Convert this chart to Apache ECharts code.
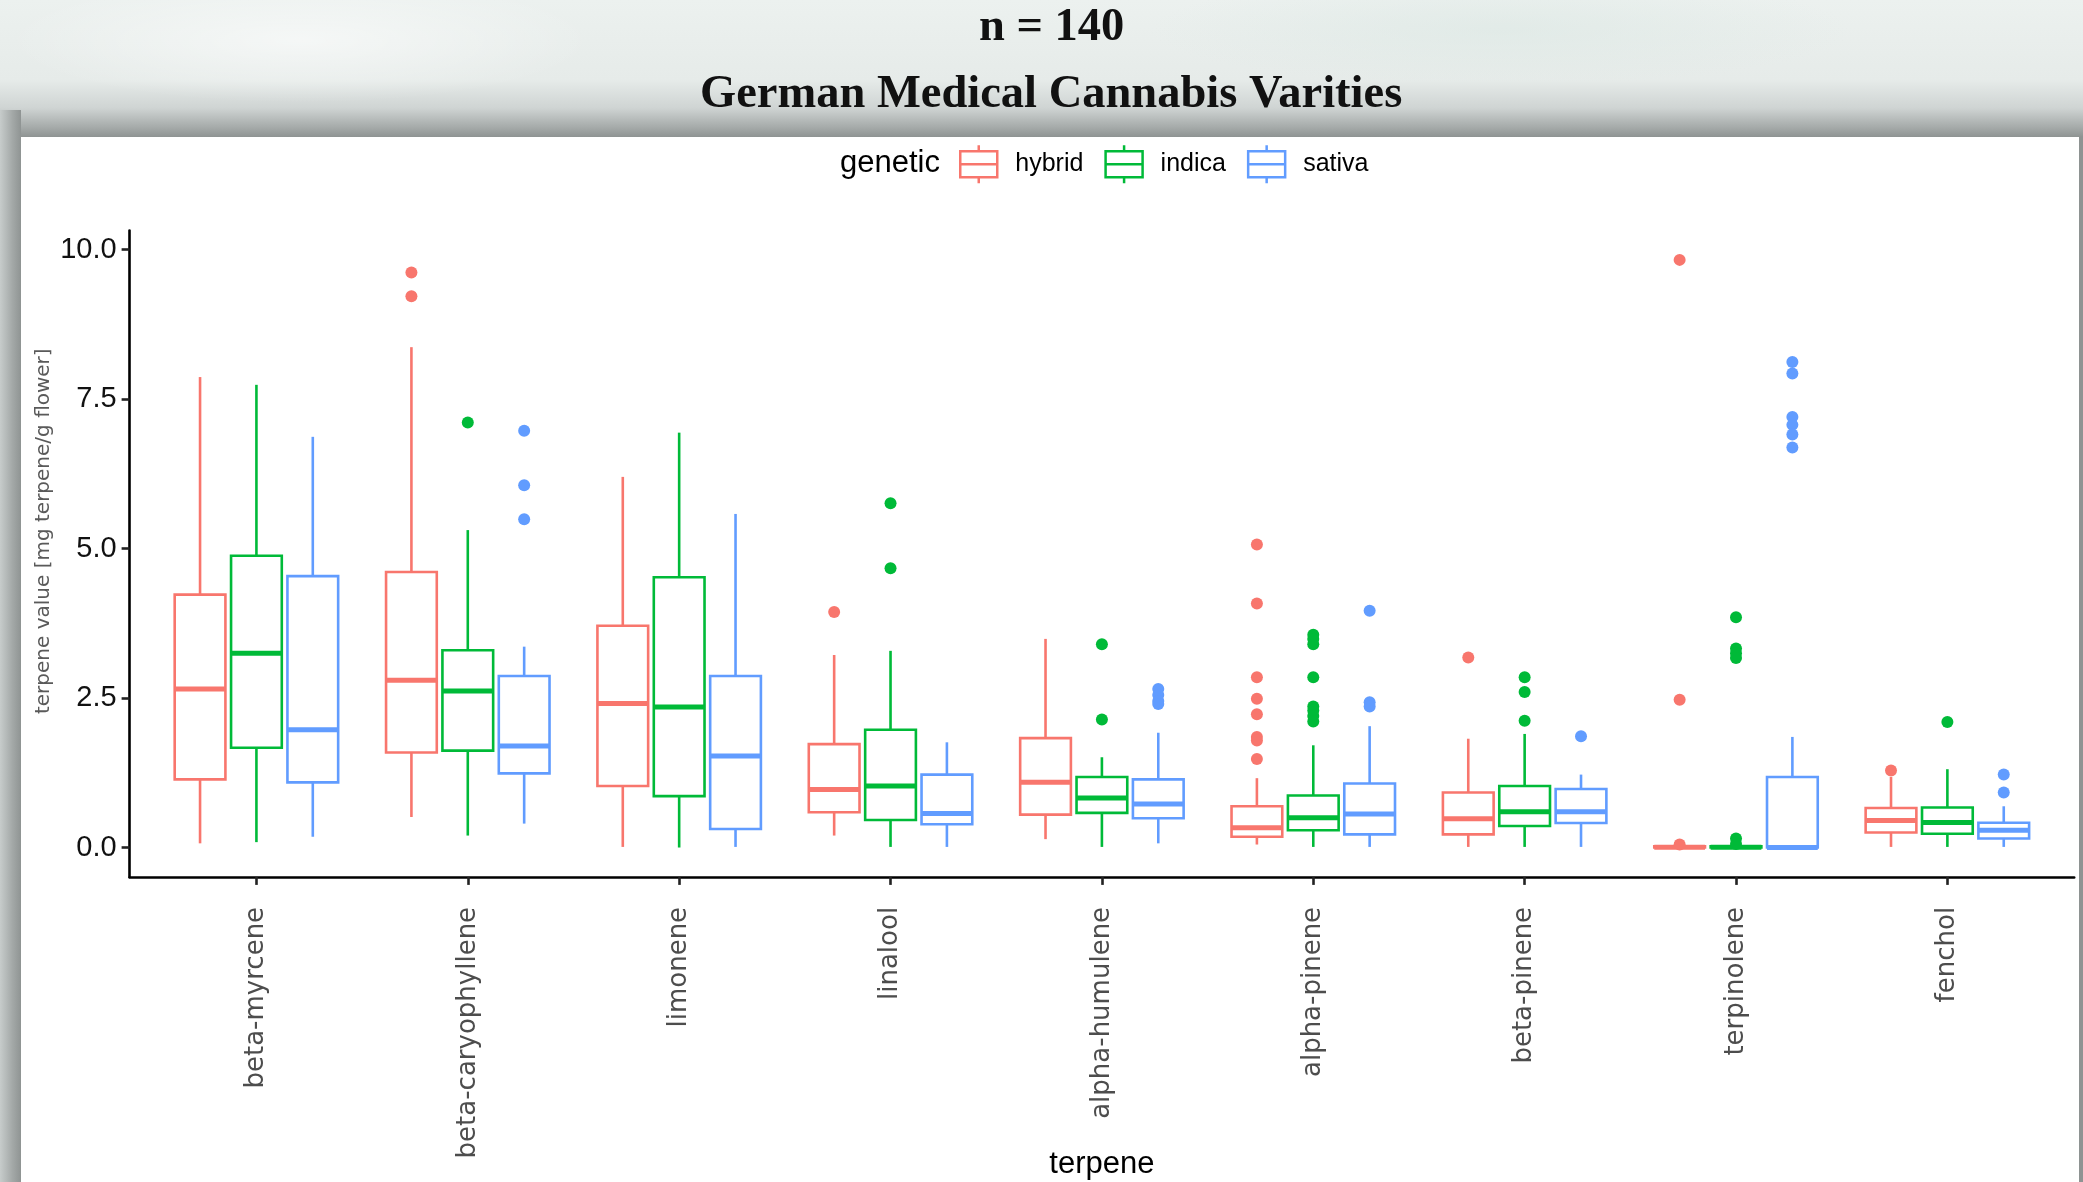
<!DOCTYPE html>
<html>
<head>
<meta charset="utf-8">
<script src="https://cdn.jsdelivr.net/npm/echarts@6/dist/echarts.min.js"></script>
<style>
  html, body { margin: 0; padding: 0; }
  body {
    width: 2083px; height: 1182px; overflow: hidden; position: relative;
    background:
      radial-gradient(ellipse 420px 90px at 300px 40px, rgba(255,255,255,0.55), rgba(255,255,255,0) 70%),
      radial-gradient(ellipse 500px 80px at 1500px 30px, rgba(220,232,228,0.6), rgba(220,232,228,0) 70%),
      linear-gradient(180deg, #ecf1ef 0px, #e6ebe9 80px, #cfd4d3 108px, #a4a9a8 128px, #8e9392 137px, #8e9392 100%);
  }
  #leftShade { position: absolute; left: 0; top: 110px; width: 21px; height: 1072px;
    background: linear-gradient(90deg, #c7cccb 0%, #a3a8a7 60%, #8f9493 100%); }
  #panel { position: absolute; left: 21px; top: 137px; width: 2058px; height: 1045px; background: #ffffff; }
  #chart { position: absolute; left: 0; top: 0; width: 2083px; height: 1182px; }
</style>
</head>
<body>
<div id="leftShade"></div>
<div id="panel"></div>
<div id="chart"></div>
<script>
// ---------------- data ----------------
const terpenes = ['beta-myrcene', 'beta-caryophyllene', 'limonene', 'linalool', 'alpha-humulene',
                  'alpha-pinene', 'beta-pinene', 'terpinolene', 'fenchol'];
const genetics = ['hybrid', 'indica', 'sativa'];

// [lower whisker, Q1, median, Q3, upper whisker] per terpene
const hybridStats = [
  [0.07, 1.14, 2.65, 4.23, 7.87],
  [0.51, 1.59, 2.80, 4.61, 8.37],
  [0.01, 1.03, 2.41, 3.71, 6.20],
  [0.20, 0.59, 0.97, 1.73, 3.22],
  [0.14, 0.55, 1.09, 1.83, 3.49],
  [0.05, 0.18, 0.33, 0.69, 1.16],
  [0.01, 0.22, 0.48, 0.92, 1.82],
  [0.00, 0.00, 0.005, 0.02, 0.03],
  [0.01, 0.25, 0.45, 0.66, 1.18]
];
const indicaStats = [
  [0.09, 1.67, 3.25, 4.88, 7.74],
  [0.20, 1.62, 2.62, 3.30, 5.31],
  [0.00, 0.86, 2.35, 4.52, 6.94],
  [0.01, 0.46, 1.03, 1.97, 3.29],
  [0.01, 0.58, 0.83, 1.18, 1.51],
  [0.01, 0.29, 0.50, 0.87, 1.71],
  [0.01, 0.36, 0.60, 1.03, 1.90],
  [0.00, 0.00, 0.005, 0.02, 0.03],
  [0.01, 0.23, 0.42, 0.67, 1.31]
];
const sativaStats = [
  [0.18, 1.09, 1.97, 4.54, 6.87],
  [0.40, 1.24, 1.70, 2.87, 3.36],
  [0.01, 0.31, 1.53, 2.87, 5.58],
  [0.01, 0.39, 0.57, 1.22, 1.76],
  [0.07, 0.49, 0.73, 1.14, 1.92],
  [0.01, 0.22, 0.56, 1.07, 2.03],
  [0.01, 0.41, 0.60, 0.98, 1.22],
  [0.00, 0.00, 0.00, 1.18, 1.85],
  [0.01, 0.15, 0.29, 0.415, 0.69]
];

// outliers per terpene
const hybridOutliers = [[], [9.62, 9.22], [], [3.94], [], [5.07, 4.08, 2.85, 2.49, 2.23, 1.85, 1.79, 1.48],
                        [3.18], [9.83, 2.47, 0.05], [1.29]];
const indicaOutliers = [[], [7.11], [], [5.76, 4.67], [3.40, 2.14], [3.56, 3.49, 3.40, 2.85, 2.36, 2.29, 2.20, 2.11],
                        [2.85, 2.60, 2.12], [3.85, 3.33, 3.25, 3.17, 0.15, 0.06], [2.10]];
const sativaOutliers = [[], [6.97, 6.06, 5.49], [], [], [2.65, 2.55, 2.45, 2.40], [3.96, 2.43, 2.36],
                        [1.86], [8.12, 7.93, 7.20, 7.07, 6.91, 6.69], [1.22, 0.92]];

const yTicks = [0, 2.5, 5, 7.5, 10];
const xTicks = [1, 2, 3, 4, 5, 6, 7, 8, 9];

// ---------------- styling ----------------
const COLORS = ['#F8766D', '#00BA38', '#619CFF'];
const DODGE = [-0.2667, 0, 0.2667];
const BOX_W = 0.24;
const statsList = [hybridStats, indicaStats, sativaStats];
const outlierList = [hybridOutliers, indicaOutliers, sativaOutliers];

function makeRender(k) {
  return function (params, api) {
    const x = api.value(0) + DODGE[k];
    const hw = api.size([BOX_W, 0])[0] / 2;
    const pMin = api.coord([x, api.value(1)]);
    const pQ1 = api.coord([x, api.value(2)]);
    const pMed = api.coord([x, api.value(3)]);
    const pQ3 = api.coord([x, api.value(4)]);
    const pMax = api.coord([x, api.value(5)]);
    const c = COLORS[k];
    return {
      type: 'group',
      children: [
        { type: 'line', shape: { x1: pMax[0], y1: pMax[1], x2: pQ3[0], y2: pQ3[1] }, style: { stroke: c, lineWidth: 2.6 } },
        { type: 'line', shape: { x1: pQ1[0], y1: pQ1[1], x2: pMin[0], y2: pMin[1] }, style: { stroke: c, lineWidth: 2.6 } },
        { type: 'rect', shape: { x: pQ3[0] - hw, y: pQ3[1], width: 2 * hw, height: pQ1[1] - pQ3[1] },
          style: { fill: '#ffffff', stroke: c, lineWidth: 2.6 } },
        { type: 'line', shape: { x1: pMed[0] - hw, y1: pMed[1], x2: pMed[0] + hw, y2: pMed[1] }, style: { stroke: c, lineWidth: 5 } }
      ]
    };
  };
}

const series = [];
genetics.forEach(function (g, k) {
  series.push({
    name: g,
    type: 'custom',
    renderItem: makeRender(k),
    encode: { x: 0, y: [1, 2, 3, 4, 5] },
    itemStyle: { color: COLORS[k] },
    data: statsList[k].map(function (s, i) { return [xTicks[i]].concat(s); }),
    z: 2
  });
});
genetics.forEach(function (g, k) {
  const pts = [];
  outlierList[k].forEach(function (arr, i) {
    arr.forEach(function (v) { pts.push([xTicks[i] + DODGE[k], v]); });
  });
  series.push({
    name: g,
    type: 'scatter',
    symbol: 'circle',
    symbolSize: 12,
    itemStyle: { color: COLORS[k], opacity: 1 },
    data: pts,
    z: 3
  });
});

const BOX_ICON = 'path://M18.5,0 L18.5,6 M0,6 L37,6 L37,32 L0,32 Z M0,19 L37,19 M18.5,32 L18.5,38';

const chart = echarts.init(document.getElementById('chart'), null, { renderer: 'canvas' });
chart.setOption({
  backgroundColor: 'transparent',
  animation: false,
  title: [
    { text: 'n = 140', left: 979, top: 5, padding: 0,
      textStyle: { fontFamily: 'Liberation Serif', fontWeight: 'bold', fontSize: 46.5, lineHeight: 46, color: '#111' } },
    { text: 'German Medical Cannabis Varities', left: 700, top: 72, padding: 0,
      textStyle: { fontFamily: 'Liberation Serif', fontWeight: 'bold', fontSize: 46.5, lineHeight: 46, color: '#111' } },
    { text: 'genetic', left: 840, top: 148, padding: 0,
      textStyle: { fontFamily: 'Liberation Sans', fontWeight: 'normal', fontSize: 31, lineHeight: 31, color: '#000' } }
  ],
  legend: {
    left: 959, top: 144, orient: 'horizontal',
    itemWidth: 37, itemHeight: 38, itemGap: 21, padding: 0,
    selectedMode: false,
    textStyle: { fontFamily: 'Liberation Sans', fontSize: 25, color: '#000', padding: [0, 0, 0, 13] },
    data: genetics.map(function (g, k) {
      return { name: g, icon: BOX_ICON, itemStyle: { color: '#ffffff', borderColor: COLORS[k], borderWidth: 2.5 } };
    })
  },
  grid: { left: 129.6, right: 8.8, top: 230.5, bottom: 305.1, containLabel: false, outerBoundsMode: 'none' },
  xAxis: {
    type: 'value', min: 0.4, max: 9.6,
    axisLine: { show: true, onZero: false, lineStyle: { color: '#000', width: 2.6 } },
    axisTick: { show: true, length: 8, customValues: xTicks, lineStyle: { color: '#222', width: 2.6 } },
    axisLabel: {
      customValues: xTicks, rotate: 90, margin: 30,
      formatter: function (v) { return terpenes[Math.round(v) - 1]; },
      fontFamily: 'DejaVu Sans', fontSize: 26, color: '#4d4d4d'
    },
    splitLine: { show: false },
    name: 'terpene', nameLocation: 'middle', nameGap: 272, nameMoveOverlap: false,
    nameTextStyle: { fontFamily: 'Liberation Sans', fontSize: 31, color: '#000' }
  },
  yAxis: {
    type: 'value', min: -0.4915, max: 10.3215,
    axisLine: { show: true, onZero: false, lineStyle: { color: '#000', width: 2.6 } },
    axisTick: { show: true, length: 8, customValues: yTicks, lineStyle: { color: '#222', width: 2.6 } },
    axisLabel: {
      customValues: yTicks, margin: 13,
      formatter: function (v) { return v.toFixed(1); },
      fontFamily: 'Liberation Sans', fontSize: 29, color: '#111'
    },
    splitLine: { show: false },
    name: 'terpene value [mg terpene/g flower]', nameLocation: 'middle', nameGap: 76, nameMoveOverlap: false,
    nameTextStyle: { fontFamily: 'DejaVu Sans', fontSize: 20, color: '#5a5a5a', padding: [0, 0, 0, 45] }
  },
  series: series
});
</script>
</body>
</html>
